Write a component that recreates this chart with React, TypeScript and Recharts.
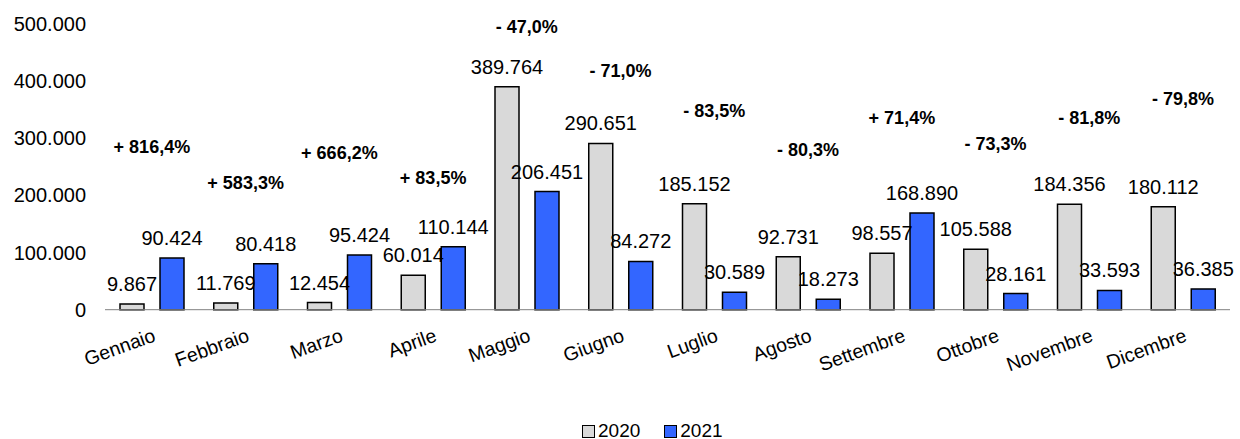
import React from 'react';
import {
  ComposedChart,
  Bar,
  Line,
  XAxis,
  YAxis,
  Legend,
  LabelList,
  Text
} from 'recharts';

const months = [
  'Gennaio', 'Febbraio', 'Marzo', 'Aprile', 'Maggio', 'Giugno',
  'Luglio', 'Agosto', 'Settembre', 'Ottobre', 'Novembre', 'Dicembre',
];
const values2020 = [9867, 11769, 12454, 60014, 389764, 290651, 185152, 92731, 98557, 105588, 184356, 180112];
const values2021 = [90424, 80418, 95424, 110144, 206451, 84272, 30589, 18273, 168890, 28161, 33593, 36385];
const changes = [
  '+ 816,4%', '+ 583,3%', '+ 666,2%', '+ 83,5%', '- 47,0%', '- 71,0%',
  '- 83,5%', '- 80,3%', '+ 71,4%', '- 73,3%', '- 81,8%', '- 79,8%',
];
// height (in chart units) at which each change label sits
const changeLevels = [285700, 222900, 275300, 231500, 495600, 418500, 347700, 279700, 336000, 290900, 336000, 369600];
const yTicks = [0, 100000, 200000, 300000, 400000, 500000];

const data = months.map((m, i) => ({
  month: m,
  y2020: values2020[i],
  y2021: values2021[i],
  change: changes[i],
  level: changeLevels[i],
}));

const FONT = '"Liberation Sans", Arial, sans-serif';

const fmt = (v: number) => String(v).replace(/\B(?=(\d{3})+(?!\d))/g, '.');

const MonthTick = (props: any) => {
  const { x, y, payload } = props;
  return (
    <Text x={x} y={y} angle={-20} textAnchor="end" verticalAnchor="start" fontSize={19.5} fill="#000">
      {payload.value}
    </Text>
  );
};

const ChangeLabel = (props: any) => {
  const { cx, cy, payload, index } = props;
  if (cx == null || cy == null) return <g key={`pct-${index}`} />;
  return (
    <Text
      key={`pct-${index}`}
      x={cx}
      y={cy}
      textAnchor="middle"
      verticalAnchor="middle"
      fontSize={18}
      fontWeight="bold"
      fill="#000"
    >
      {payload.change}
    </Text>
  );
};

const LegendContent = (props: any) => {
  const items = (props.payload || []).filter((p: any) => p.type !== 'none');
  return (
    <div style={{ display: 'flex', alignItems: 'center', fontSize: 19, lineHeight: '24px', color: '#000', whiteSpace: 'nowrap' }}>
      {items.map((p: any) => (
        <span key={p.value} style={{ display: 'flex', alignItems: 'center', marginRight: 24 }}>
          <span
            style={{
              display: 'inline-block',
              width: 11,
              height: 11,
              background: p.color,
              border: '1px solid #000',
              marginRight: 3,
            }}
          />
          {p.value}
        </span>
      ))}
    </div>
  );
};

export default function App() {
  return (
    <div style={{ position: 'absolute', left: 0, top: 0, fontFamily: FONT, background: '#fff' }}>
      <ComposedChart
        width={1240}
        height={439}
        data={data}
        margin={{ top: 23.7, right: 10, bottom: 0, left: 0 }}
        barSize={24}
        barGap={16}
      >
        <XAxis
          dataKey="month"
          height={129.3}
          axisLine={{ stroke: '#808080', strokeWidth: 1 }}
          tickLine={false}
          tickSize={6}
          tickMargin={12}
          interval={0}
          tick={<MonthTick />}
        />
        <YAxis
          width={105}
          domain={[0, 500000]}
          ticks={yTicks}
          axisLine={false}
          tickLine={false}
          tickSize={6}
          tickMargin={13}
          tickFormatter={fmt}
          tick={{ fill: '#000', fontSize: 20 }}
        />
        <Legend
          layout="horizontal"
          verticalAlign="middle"
          align="center"
          content={<LegendContent />}
          wrapperStyle={{ left: 582, top: 419, width: 180, height: 26, overflow: 'visible' }}
        />
        <Bar dataKey="y2020" name="2020" fill="#D9D9D9" stroke="#000" strokeWidth={1.5} isAnimationActive={false}>
          <LabelList dataKey="y2020" position="top" offset={13} fontSize={20} fill="#000" formatter={(v: any) => fmt(v)} />
        </Bar>
        <Bar dataKey="y2021" name="2021" fill="#3366FF" stroke="#000" strokeWidth={1.5} isAnimationActive={false}>
          <LabelList dataKey="y2021" position="top" offset={13} fontSize={20} fill="#000" formatter={(v: any) => fmt(v)} />
        </Bar>
        <Line
          dataKey="level"
          stroke="none"
          legendType="none"
          dot={ChangeLabel}
          activeDot={false}
          isAnimationActive={false}
        />
      </ComposedChart>
    </div>
  );
}
